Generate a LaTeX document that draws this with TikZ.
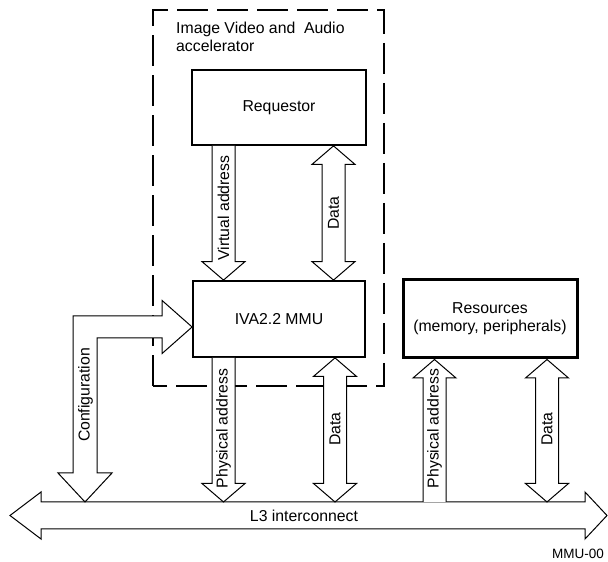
\documentclass[tikz,border=0pt]{standalone}
\usepackage{fontspec}
\setmainfont{Liberation Sans}
\usetikzlibrary{calc}

\newcommand{\shaftw}{11.5}
\newcommand{\headw}{21.5}
\newcommand{\headl}{18.5}

% hollow arrows: #1 gives x and upper end, #2 the lower end
\newcommand{\hollowdown}[2]{%
  \draw[hollow] let \p1=#1, \p2=#2 in
    (\x1-\shaftw,\y1) -- (\x1-\shaftw,\y2+\headl) -- (\x1-\headw,\y2+\headl) -- (\x1,\y2)
    -- (\x1+\headw,\y2+\headl) -- (\x1+\shaftw,\y2+\headl) -- (\x1+\shaftw,\y1);}
\newcommand{\hollowup}[2]{%
  \draw[hollow] let \p1=#1, \p2=#2 in
    (\x1-\shaftw,\y2) -- (\x1-\shaftw,\y1-\headl) -- (\x1-\headw,\y1-\headl) -- (\x1,\y1)
    -- (\x1+\headw,\y1-\headl) -- (\x1+\shaftw,\y1-\headl) -- (\x1+\shaftw,\y2);}
\newcommand{\hollowboth}[2]{%
  \draw[hollow] let \p1=#1, \p2=#2 in
    (\x1,\y1) -- (\x1-\headw,\y1-\headl) -- (\x1-\shaftw,\y1-\headl) -- (\x1-\shaftw,\y2+\headl)
    -- (\x1-\headw,\y2+\headl) -- (\x1,\y2) -- (\x1+\headw,\y2+\headl) -- (\x1+\shaftw,\y2+\headl)
    -- (\x1+\shaftw,\y1-\headl) -- (\x1+\headw,\y1-\headl) -- cycle;}

\begin{document}
\begin{tikzpicture}[x=1pt,y=1pt,
    font=\fontsize{15.8}{18}\selectfont,
    box/.style={draw,line width=1.8pt,fill=white},
    hollow/.style={draw,line width=1pt,fill=white,line join=miter},
    ivabox/.style={line width=2.6pt,dash pattern=on 31pt off 9pt},
    lbl/.style={rotate=90,inner sep=0pt}]
  \useasboundingbox (0,0) rectangle (608,562);

  % accelerator frame
  \draw[ivabox] (153,176) rectangle (384,552);
  \node[anchor=base west,align=left,inner sep=0pt] (ivatitle) at (176,510)
     {Image Video and~ Audio\\accelerator};

  % blocks
  \node[box,minimum width=174,minimum height=75] (req) at (279,454.5) {Requestor};
  \node[box,minimum width=172,minimum height=76] (mmu) at (279,243) {IVA2.2 MMU};
  \node[box,line width=3pt,minimum width=174,minimum height=78,align=center] (res) at (490,243)
     {Resources\\(memory, peripherals)};

  % bus
  \coordinate (bustop) at (304,60);
  \draw[hollow] (10,46.5) -- (41,70) -- (41,60) -- (585,60) -- (585,70) -- (607,46.5)
     -- (585,23) -- (585,33) -- (41,33) -- (41,23) -- cycle;
  \node (bus) at (304,46.5) {L3 interconnect};

  % arrows
  \hollowdown{($(req.south)+(-55.5,0)$)}{(mmu.north)}
  \hollowboth{($(req.south)+(54.5,0)$)}{(mmu.north)}
  \hollowdown{($(mmu.south)+(-55.5,0)$)}{(bustop)}
  \hollowboth{($(mmu.south)+(56,0)$)}{(bustop)}
  \hollowup{($(res.south)+(-55.5,0)$)}{(bustop)}
  \hollowboth{($(res.south)+(57,0)$)}{(bustop)}
  \draw[hollow] let \p1=($(mmu.west)+(0,-8)$), \p2=(bustop) in
    (\x1,\y1) -- (\x1-30,\y1+26.5) -- (\x1-30,\y1+11) -- (73,\y1+11) -- (73,\y2+29)
    -- (58,\y2+29) -- (85,\y2) -- (112,\y2+29) -- (97,\y2+29) -- (97,\y1-11)
    -- (\x1-30,\y1-11) -- (\x1-30,\y1-26.5) -- cycle;

  % labels
  \node[lbl] (virtlbl) at (223.5,354) {Virtual address};
  \node[lbl] (datalbl) at (333.5,349) {Data};
  \node[lbl] (cfglbl) at (85.5,167) {Configuration};
  \node[lbl] (physlbl) at (223.5,133.5) {Physical address};
  \node[lbl] (mmudatalbl) at (335,133) {Data};
  \node[lbl] (resphyslbl) at (434.5,133.5) {Physical address};
  \node[lbl] (resdatalbl) at (547,133) {Data};
  \node[anchor=base east,inner sep=0pt,font=\fontsize{13.5}{16}\selectfont] (figid) at (604,3) {MMU-00};
\end{tikzpicture}
\end{document}
